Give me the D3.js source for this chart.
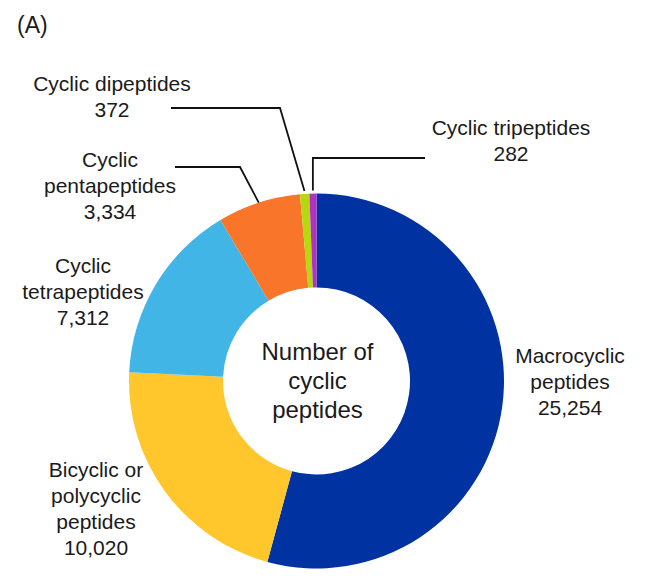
<!DOCTYPE html>
<html lang="en">
<head>
<meta charset="UTF-8">
<title>Number of cyclic peptides</title>
<script src="https://d3js.org/d3.v7.min.js"></script>
<style>
  body { margin: 0; padding: 0; background: #fff; }
  svg { display: block; font-family: "Liberation Sans", Arial, sans-serif; }
  .lbl { font-size: 21px; fill: #1a1a1a; text-anchor: middle; }
  .center { font-size: 24px; fill: #1a1a1a; text-anchor: middle; }
  .leader { fill: none; stroke: #111; stroke-width: 1.8; }
</style>
</head>
<body>
<div id="chart"></div>
<script>
// data, in clockwise order from 12 o'clock
const categories = [
  ["Macrocyclic", "peptides"],
  ["Bicyclic or", "polycyclic", "peptides"],
  ["Cyclic", "tetrapeptides"],
  ["Cyclic", "pentapeptides"],
  ["Cyclic dipeptides"],
  ["Cyclic tripeptides"]
];
const counts = [25254, 10020, 7312, 3334, 372, 282];
const colors = ["#0033a1", "#ffc72c", "#41b6e6", "#f8752a", "#b6d80f", "#b131c2"];
const centerLines = ["Number of", "cyclic", "peptides"];

// layout (label anchors and leader elbows)
const width = 649, height = 576;
const cx = 316.5, cy = 381;
const outerR = 187.5, innerR = 93.5;
const labelPos = [
  {x: 570, y: 363},
  {x: 96, y: 477},
  {x: 83, y: 273},
  {x: 110, y: 167},
  {x: 112, y: 91},
  {x: 511, y: 135}
];
// leader: [elbow x, elbow y, end x, radial offset]
const leaders = {
  3: {ex: 240, ey: 167, endX: 175, off: 0},
  4: {ex: 280, ey: 108, endX: 171, off: 3},
  5: {ex: null, ey: 158, endX: 425, off: 3}
};

const svg = d3.select("#chart").append("svg")
  .attr("width", width)
  .attr("height", height);

svg.append("rect").attr("width", width).attr("height", height).attr("fill", "#fff");

svg.append("text")
  .attr("x", 17).attr("y", 33)
  .attr("font-size", 23).attr("fill", "#1a1a1a")
  .text("(A)");

const pie = d3.pie().sort(null).value(d => d);
const arcs = pie(counts);
const arc = d3.arc().innerRadius(innerR).outerRadius(outerR);

const g = svg.append("g").attr("transform", `translate(${cx},${cy})`);

g.selectAll("path")
  .data(arcs)
  .join("path")
  .attr("d", arc)
  .attr("fill", (d, i) => colors[i]);

// center text
const ct = svg.append("text").attr("class", "center");
centerLines.forEach((t, i) => {
  ct.append("tspan").attr("x", cx + 1).attr("y", 360 + i * 29).text(t);
});

// leader lines
const fmt = d3.format(",");
Object.keys(leaders).forEach(k => {
  const i = +k, L = leaders[k], a = arcs[i];
  const mid = (a.startAngle + a.endAngle) / 2;
  const r = outerR + L.off;
  const px = cx + Math.sin(mid) * r, py = cy - Math.cos(mid) * r;
  const ex = L.ex === null ? px : L.ex;
  svg.append("path")
    .attr("class", "leader")
    .attr("d", d3.line()([[px, py], [ex, L.ey], [L.endX, L.ey]]));
});

// labels
categories.forEach((lines, i) => {
  const t = svg.append("text").attr("class", "lbl");
  const all = lines.concat([fmt(counts[i])]);
  all.forEach((s, j) => {
    t.append("tspan").attr("x", labelPos[i].x).attr("y", labelPos[i].y + j * 26).text(s);
  });
});
</script>
</body>
</html>
